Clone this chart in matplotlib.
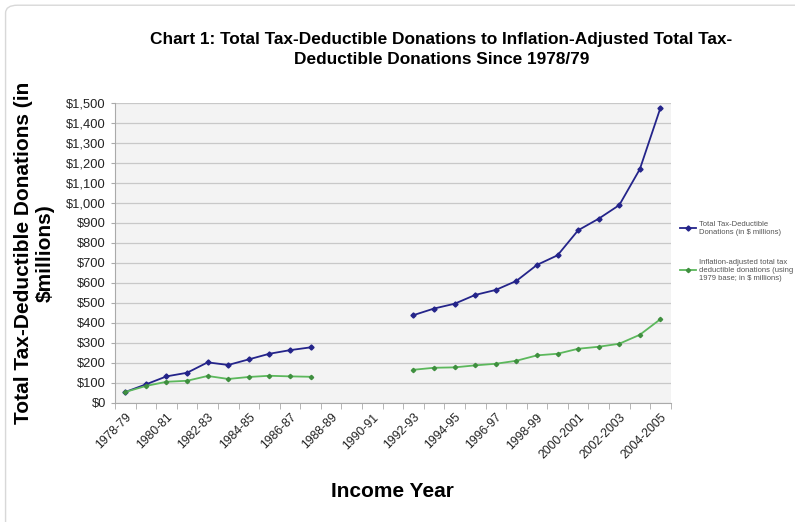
import matplotlib.pyplot as plt
from matplotlib.patches import FancyBboxPatch
from matplotlib.ticker import FuncFormatter, MultipleLocator
import numpy as np

years = ["1978-79", "1979-80", "1980-81", "1981-82", "1982-83", "1983-84",
         "1984-85", "1985-86", "1986-87", "1987-88", "1988-89", "1989-90",
         "1990-91", "1991-92", "1992-93", "1993-94", "1994-95", "1995-96",
         "1996-97", "1997-98", "1998-99", "1999-2000", "2000-2001",
         "2001-2002", "2002-2003", "2003-2004", "2004-2005"]

# $ millions, no data for 1988-89 to 1991-92
total = [55, 93, 133, 151, 203, 190, 218, 246, 264, 278,
         None, None, None, None,
         439, 472, 496, 540, 565, 610, 690, 738, 863, 921, 989, 1169, 1475]
adjusted = [55, 85, 106, 111, 135, 120, 130, 136, 133, 131,
            None, None, None, None,
            166, 176, 178, 188, 196, 211, 238, 246, 271, 281, 296, 341, 419]

plt.rcParams['font.family'] = ['Liberation Sans', 'DejaVu Sans']

fig = plt.figure(figsize=(7.95, 5.22), dpi=100)
fig.patches.append(FancyBboxPatch((0.007, -0.05), 1.05, 1.04, boxstyle="round,pad=0,rounding_size=0.015",
                                  transform=fig.transFigure, fc='white', ec='#d8d8d8', lw=1, zorder=-1))
ax = fig.add_axes([0.1447, 0.228, 0.699, 0.575])
ax.set_facecolor('#f3f3f3')

x = np.arange(len(years))
t = np.array([np.nan if v is None else v for v in total], dtype=float)
a = np.array([np.nan if v is None else v for v in adjusted], dtype=float)

ax.plot(x, t, color='#24248a', lw=1.3, marker='D', ms=2.6, label='Total Tax-Deductible\nDonations (in $ millions)')
ax.plot(x, a, color='#5cb85c', lw=1.3, marker='D', ms=2.2, mfc='#3f8f3f', mec='#3f8f3f',
        label='Inflation-adjusted total tax\ndeductible donations (using\n1979 base; in $ millions)')

ax.set_xlim(-0.5, len(years) - 0.5)
ax.set_ylim(0, 1500)
ax.yaxis.set_major_locator(MultipleLocator(100))
ax.yaxis.set_major_formatter(FuncFormatter(lambda v, p: "${:,.0f}".format(v)))
ax.grid(axis='y', color='#c8c8c8', lw=0.9)
ax.set_axisbelow(True)

ax.set_xticks(x[::2])
ax.set_xticklabels(years[::2], rotation=45, ha='right', rotation_mode='anchor', fontsize=8.8, color='#222222')
ax.set_xticks(np.arange(-0.5, len(years), 1), minor=True)
ax.tick_params(axis='x', which='major', length=0, pad=6)
ax.tick_params(axis='x', which='minor', length=4, color='#aaaaaa')
ax.tick_params(axis='y', labelsize=9.3, length=3, color='#aaaaaa', labelcolor='#222222')

for s in ['top', 'right']:
    ax.spines[s].set_visible(False)
ax.spines['left'].set_color('#aaaaaa')
ax.spines['bottom'].set_color('#aaaaaa')

ax.set_ylabel('Total Tax-Deductible Donations (in\n$millions)', fontsize=15, fontweight='bold', labelpad=8)
ax.set_xlabel('Income Year', fontsize=15, fontweight='bold', labelpad=15)
fig.text(0.555, 0.905, 'Chart 1: Total Tax-Deductible Donations to Inflation-Adjusted Total Tax-\nDeductible Donations Since 1978/79',
         ha='center', va='center', fontsize=12.4, fontweight='bold', linespacing=1.35)

leg = ax.legend(loc='upper left', bbox_to_anchor=(1.005, 0.63), frameon=False, fontsize=5.5,
                labelspacing=3, handlelength=2, handletextpad=0.5)
for txt in leg.get_texts():
    txt.set_color('#555555')

fig.savefig('out.png', dpi=100)
